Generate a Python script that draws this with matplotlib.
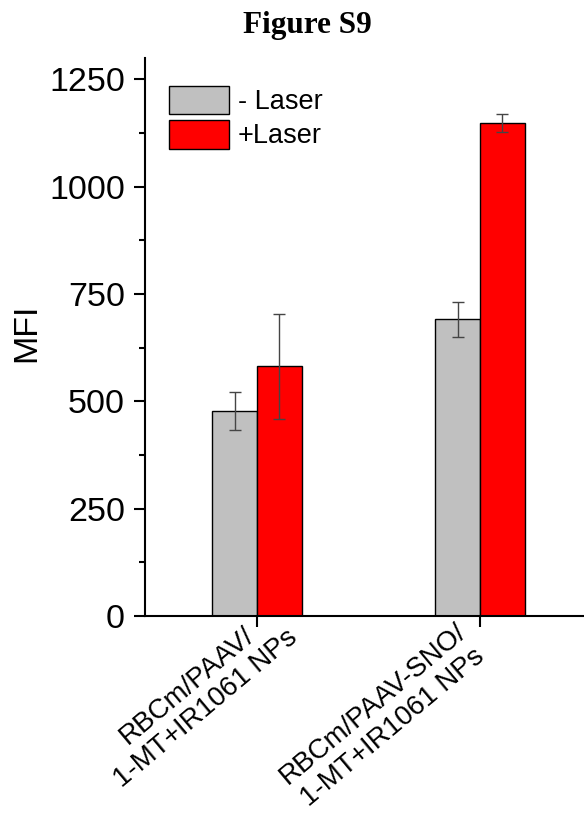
import numpy as np
import matplotlib
matplotlib.use('Agg')
from matplotlib import pyplot as plt
from matplotlib.transforms import ScaledTranslation

groups = ['RBCm/PAAV/\n1-MT+IR1061 NPs', 'RBCm/PAAV-SNO/\n1-MT+IR1061 NPs']
no_laser = [478, 691]
no_laser_err = [44, 40]
laser = [582, 1149]
laser_err = [122, 21]
series_names = ['- Laser', '+Laser']

plt.rcParams['font.family'] = ['Liberation Sans', 'DejaVu Sans']

fig = plt.figure(figsize=(5.84, 8.14), dpi=100)
ax = fig.add_axes([0.2483, 0.2432, 0.7517, 0.6855])

x = np.arange(len(groups))
w = 0.2
ekw = dict(ecolor='#454545', elinewidth=1.0, capthick=1.0)
ax.bar(x - w/2, no_laser, w, yerr=no_laser_err, capsize=4.3, color='#c0c0c0',
       edgecolor='black', linewidth=1.0, label=series_names[0], error_kw=ekw)
ax.bar(x + w/2, laser, w, yerr=laser_err, capsize=4.3, color='#ff0000',
       edgecolor='black', linewidth=1.0, label=series_names[1], error_kw=ekw)

ax.set_xlim(-0.502, 1.466)
ax.set_ylim(0, 1300)
ax.set_yticks([0, 250, 500, 750, 1000, 1250])
ax.set_yticks(np.arange(125, 1300, 250), minor=True)
ax.tick_params(axis='y', which='major', length=8, width=1.5, labelsize=24.5, direction='out', pad=6.5)
ax.tick_params(axis='y', which='minor', length=4.3, width=1.5, direction='out')
ax.set_xticks(x)
ax.set_xticklabels(groups, rotation=40, ha='right', va='top', rotation_mode='anchor',
                   multialignment='center', fontsize=20)
ax.tick_params(axis='x', length=8, width=1.5, direction='out', pad=-4)
# the two group labels sit at slightly different spots in the original
shifts = [(10, 20), (-25, 3)]
for lab, (dx, dy) in zip(ax.get_xticklabels(), shifts):
    lab.set_transform(lab.get_transform() + ScaledTranslation(dx / 100, dy / 100, fig.dpi_scale_trans))
for s in ['top', 'right']:
    ax.spines[s].set_visible(False)
for s in ['left', 'bottom']:
    ax.spines[s].set_linewidth(1.5)
ax.set_ylabel('MFI', fontsize=24.5)
ax.yaxis.set_label_coords(-0.2346, 0.507)

ax.legend(loc='upper left', bbox_to_anchor=(0.03, 0.97), frameon=False, fontsize=19.5,
          handlelength=2.2, handleheight=1.25, handletextpad=0.35, labelspacing=0.18,
          borderaxespad=0)

fig.text(0.527, 0.9595, 'Figure S9', ha='center', va='baseline', fontsize=22.5,
         fontweight='bold', family='Liberation Serif')

fig.savefig('out.png', dpi=100)
